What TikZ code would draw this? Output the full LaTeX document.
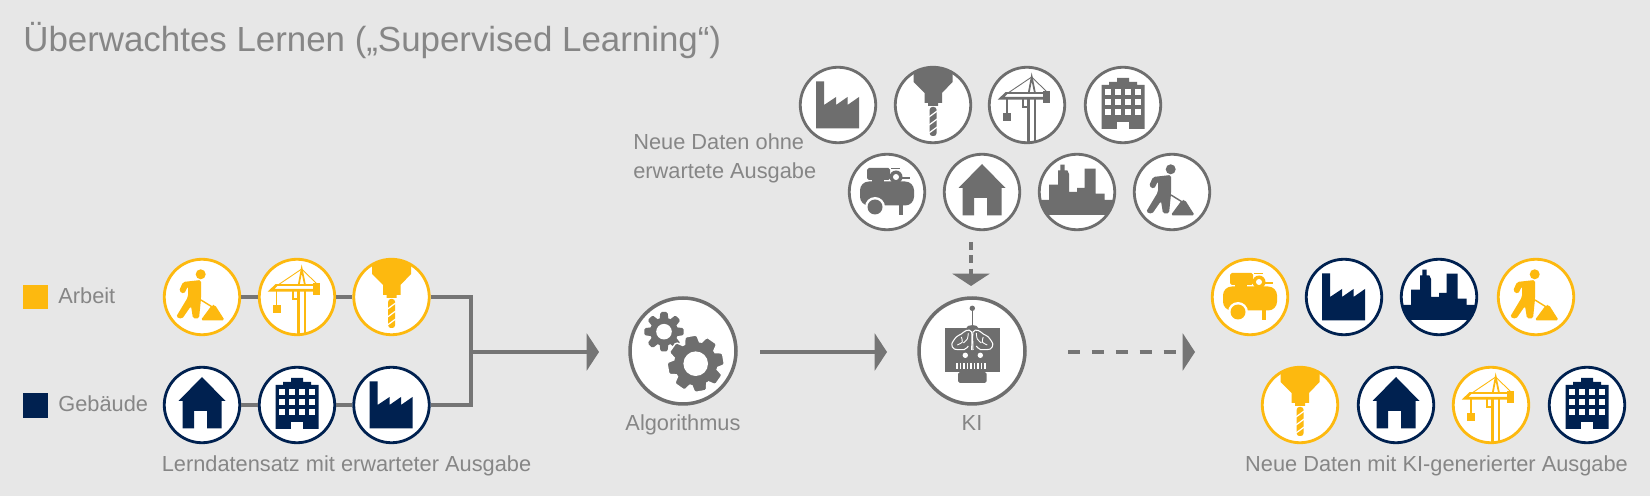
\documentclass[tikz,border=0pt]{standalone}
\usepackage{fontspec}
\setmainfont{Liberation Sans}
\usetikzlibrary{arrows.meta}
\definecolor{bggray}{HTML}{E7E7E7}
\definecolor{icgray}{HTML}{6E6E6E}
\definecolor{txgray}{HTML}{868686}
\definecolor{linegray}{HTML}{757575}
\definecolor{icyellow}{HTML}{FDB90F}
\definecolor{icnavy}{HTML}{002150}
\tikzset{
	iconball/.style={circle,fill=white,line width=1.6pt,minimum size=1.51cm,inner sep=0pt},
	bigball/.style={circle,fill=white,draw=icgray,line width=2pt,minimum size=2.12cm,inner sep=0pt},
	label/.style={text=txgray,font=\fontsize{12.4}{14}\selectfont,inner sep=0pt},
	link/.style={draw=linegray,line width=2pt},
	flow/.style={link,-{Triangle[length=7pt,width=21pt]}},
	pics/factory/.style={code={
		\fill[#1] (-22,-23.5)--(-14,-23.5)--(-14,0)--(-2,-8)--(-2,0)--(9.5,-8)--(9.5,0)--(21,-8)--(21,23.5)--(-22,23.5)--cycle;
	}},
	pics/house/.style={code={
		\fill[#1] (0,-28)--(23.5,-4)--(19.5,-4)--(19.5,23.5)--(5,23.5)--(5,6)--(-8,6)--(-8,23.5)--(-19.5,23.5)--(-19.5,-4)--(-23.5,-4)--cycle;
	}},
	pics/tower/.style={code={
		\fill[#1] (-21.5,24)--(-21.5,-20)--(-14,-20)--(-14,-23)--(-6,-23)--(-6,-27)--(6,-27)--(6,-23)--(14,-23)--(14,-20)--(21.5,-20)--(21.5,24)--cycle;
		\foreach \wx in {-15,-5,5,15} \foreach \wy in {-13,-3,7}
			\fill[white] (\wx-3.3,\wy-3)rectangle(\wx+3.3,\wy+3);
		\fill[white] (-6,17)rectangle(6,24);
	}},
	pics/drill/.style={code={
		\fill[#1] (-19.5,-33) .. controls (-10,-38.5) and (10,-38.5) .. (19.5,-33)--(19.5,-23)--(9,-12)--(9,-2)--(5,-2)--(5,1)--(-5,1)--(-5,-2)--(-8.5,-2)--(-8.5,-12)--(-19.5,-23)--cycle;
		\fill[#1,rounded corners=1.5pt] (-3.3,2)rectangle(3.5,31);
		\foreach \sy in {9,17,25}
			\draw[white,line width=0.7pt] (-4,\sy+3)--(4.2,\sy-3);
	}},
	pics/crane/.style={code={
		\draw[#1,line width=1.4pt] (1.7,-7)--(1.7,37.5) (8,-7)--(8,37.5);
		\draw[#1,line width=1pt] (1.7,-12)--(4.7,-28)--(8,-12);
		\draw[#1,line width=0.5pt] (-19,-12)--(4.7,-28)--(20,-13);
		\draw[#1,line width=1.1pt] (-21,-12)--(17,-12);
		\draw[#1,line width=1.5pt] (-20.5,-12)--(-26,-6.7)--(17,-6.7);
		\draw[#1,line width=0.9pt] (-20.3,-6.7)--(-20.3,8);
		\fill[#1] (-24,8)rectangle(-16.5,16);
		\fill[#1] (16.3,-13.5)rectangle(23.3,-2.3);
		\draw[#1,line width=1.2pt] (-4,-6.7)--(-4,1.7)--(1.7,1.7);
	}},
	pics/compressor/.style={code={
		\fill[#1,rounded corners=1pt] (-20,-24)rectangle(3,-12);
		\fill[#1] (-15,-13)rectangle(-3,-9);
		\fill[#1,rounded corners=5pt] (-27,-10.5)rectangle(27,13.5);
		\fill[#1] (12,12)rectangle(16,23);
		\fill[white] (-12,15) circle[radius=10];
		\fill[#1] (-12,15) circle[radius=7.5];
		\fill[#1] (4,-24)rectangle(13,-22.5);
		\fill[#1] (9,-15) circle[radius=6.5];
		\fill[white] (9,-15) circle[radius=3];
		\fill[#1] (14,-14.5)rectangle(23,-12.5);
		\fill[#1] (5,-11)rectangle(13,-9);
	}},
	pics/skyline/.style={code={
		\fill[#1] (-37,8)--(-28,8)--(-28,-7.3)--(-19,-7.3)--(-19,-21.7)--(-16.7,-21.7)--(-16.7,-27.3)--(-12.3,-27.3)--(-12.3,-21.7)--(-9.7,-21.7)--(-8,-18)--(-8,0)--(0,0)--(0,-4)--(7.7,-4)--(7.7,-23.3)--(18.7,-23.3)--(18.7,1.7)--(27.7,1.7)--(27.7,8)--(37,8) .. controls (36,14) and (34,18) .. (30.5,23)--(-30.5,23) .. controls (-34,18) and (-36,14) .. (-37,8)--cycle;
	}},
	pics/worker/.style={code={
		\fill[#1] (-1.3,-22.7) circle[radius=5];
		\fill[#1,rounded corners=1pt] (-19,-15)--(-1,-17)--(-1,2)--(-3,21.5)--(-9,21.5)--(-11,9)--(-20,22)--(-26,20)--(-14,0)--(-14,-11)--(-18,-3)--(-23,-6)--cycle;
		\draw[#1,line width=0.8pt] (-1,3)--(10.3,10);
		\fill[#1,rounded corners=1pt] (-1.3,23.3)--(10,8)--(13,8)--(22.7,23.3)--cycle;
	}},
	pics/gears/.style={code={
		\foreach \a in {0,45,...,315}
			\fill[icgray,rounded corners=0.8pt,rotate around={\a:(-19,-19.3)}] (-23.5,-31)--(-22.5,-39)--(-15.5,-39)--(-14.5,-31)--cycle;
		\fill[icgray] (-19,-19.3) circle[radius=14];
		\fill[white] (-19,-19.3) circle[radius=7.8];
		\fill[white] (12.7,12.7) circle[radius=22.5];
		\foreach \a in {10,55,...,325}
			\fill[icgray,draw=white,line width=0.8pt,rounded corners=0.8pt,rotate around={\a:(12.7,12.7)}] (4.7,-6)--(6.7,-15.5)--(18.7,-15.5)--(20.7,-6)--cycle;
		\fill[icgray] (12.7,12.7) circle[radius=21.5];
		\fill[white] (12.7,12.7) circle[radius=12.3];
	}},
	pics/robot/.style={code={
		\fill[icgray] (0.3,-42.7) circle[radius=2.7];
		\draw[icgray,line width=0.7pt] (0.3,-42)--(0.3,-25);
		\fill[icgray] (-6,-22.7) .. controls (-5,-27) and (6,-27) .. (6.5,-22.7)--cycle;
		\fill[icgray] (-27.3,-22.7)rectangle(27.7,21);
		\fill[icgray,rounded corners=1pt] (-14,21)rectangle(14.5,32);
		\fill[icgray] (-12,20)rectangle(12,27);
		\foreach \sx in {1,-1}{
			\begin{scope}[shift={(0.3,0)},xscale=\sx]
			\draw[white,line width=0.6pt] plot[smooth] coordinates {(0.7,-1) (0.7,-19) (6,-20.5) (11,-17) (16,-14) (20.5,-7) (18,-2) (8,-1.5) (4,-5)};
			\draw[white,line width=0.5pt] plot[smooth] coordinates {(4,-18) (5,-12) (9,-8)} plot[smooth] coordinates {(11,-14) (10,-9) (15,-6)};
			\end{scope}
		}
		\foreach \ex in {-6.7,8.3}
			\fill[white] (\ex,4.3) circle[radius=2.7];
		\foreach \tx in {-15,-11.5,...,13}
			\fill[white] (\tx-0.8,11.7)rectangle(\tx+0.8,18.3);
	}}
}
\newcommand{\iconat}[4]{\node[iconball,draw=#4] (#1) at (#2) {}; \pic at (#1) {#3=#4};}
\begin{document}
\begin{tikzpicture}[x=0.02cm,y=-0.02cm]
	\useasboundingbox (0,0) rectangle (1650,496);
	\fill[bggray] (0,0) rectangle (1650,496);
	% title and legend
	\node[label,anchor=base west,font=\fontsize{19.85}{22}\selectfont] (title) at (23,52) {Überwachtes Lernen („Supervised Learning“)};
	\node[fill=icyellow,minimum width=0.5cm,minimum height=0.49cm,inner sep=0pt] (keya) at (35.5,297) {};
	\node[fill=icnavy,minimum width=0.5cm,minimum height=0.49cm,inner sep=0pt] (keyb) at (35.5,405.5) {};
	\node[label,anchor=base west] (arbeit) at (58,304) {Arbeit};
	\node[label,anchor=base west] (gebaeude) at (58,412) {Gebäude};
	% training set
	\iconat{wa}{202,297}{worker}{icyellow}
	\iconat{cr}{297,297}{crane}{icyellow}
	\iconat{dr}{391.5,297}{drill}{icyellow}
	\iconat{ho}{202,405}{house}{icnavy}
	\iconat{to}{297,405}{tower}{icnavy}
	\iconat{fa}{391.5,405}{factory}{icnavy}
	\draw[link] (wa)--(cr);
	\draw[link] (cr)--(dr);
	\draw[link] (ho)--(to);
	\draw[link] (to)--(fa);
	\coordinate (merge) at (471,352);
	\coordinate (tipa) at (599,352);
	\draw[link] (dr)-|(merge);
	\draw[link] (fa)-|(merge);
	\draw[flow] (merge)--(tipa);
	\node[label,anchor=base] (lern) at (346.5,471) {Lerndatensatz mit erwarteter Ausgabe};
	% algorithm and AI
	\node[bigball] (algo) at (683,351) {};
	\pic at (algo) {gears};
	\node[label,anchor=base] (algotext) at (683,431) {Algorithmus};
	\node[bigball] (ki) at (972,351) {};
	\pic at (ki) {robot};
	\node[label,anchor=base] (kitext) at (972,431) {KI};
	\coordinate (froma) at (760,352);
	\coordinate (tipb) at (887,352);
	\draw[flow] (froma)--(tipb);
	% new data
	\iconat{n1}{838,105}{factory}{icgray}
	\iconat{n2}{933,105}{drill}{icgray}
	\iconat{n3}{1027,105}{crane}{icgray}
	\iconat{n4}{1123,105}{tower}{icgray}
	\iconat{n5}{887,192}{compressor}{icgray}
	\iconat{n6}{982,192}{house}{icgray}
	\iconat{n7}{1077,192}{skyline}{icgray}
	\iconat{n8}{1172,192}{worker}{icgray}
	\node[label,anchor=base west] (neua) at (633,150) {Neue Daten ohne};
	\node[label,anchor=base west] (neub) at (633,179) {erwartete Ausgabe};
	\coordinate (fromb) at (971,242);
	\coordinate (tipc) at (971,286);
	\draw[flow,dash pattern=on 4.6pt off 3pt] (fromb)--(tipc);
	% output
	\coordinate (fromc) at (1068,352);
	\coordinate (tipd) at (1195,352);
	\draw[flow,dash pattern=on 6.8pt off 6.8pt] (fromc)--(tipd);
	\iconat{o1}{1250,297}{compressor}{icyellow}
	\iconat{o2}{1344,297}{factory}{icnavy}
	\iconat{o3}{1439,297}{skyline}{icnavy}
	\iconat{o4}{1536,297}{worker}{icyellow}
	\iconat{o5}{1300,405}{drill}{icyellow}
	\iconat{o6}{1396,405}{house}{icnavy}
	\iconat{o7}{1491,405}{crane}{icyellow}
	\iconat{o8}{1587,405}{tower}{icnavy}
	\node[label,anchor=base] (neuc) at (1436.5,471) {Neue Daten mit KI-generierter Ausgabe};
\end{tikzpicture}
\end{document}
